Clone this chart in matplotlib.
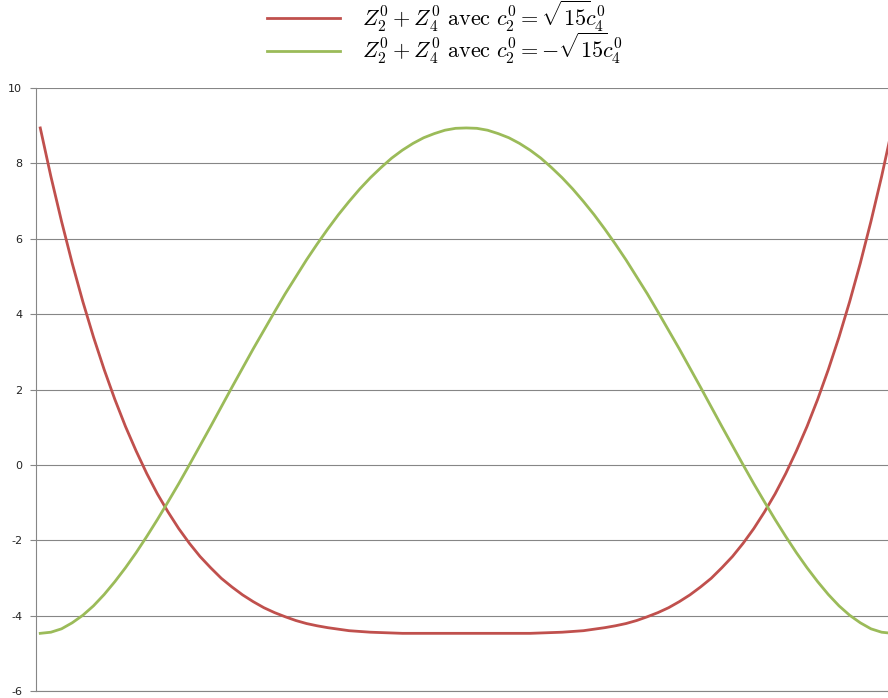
import matplotlib
matplotlib.use("Agg")
import matplotlib.pyplot as plt
import numpy as np

# abscisse (rayon normalise, de -1 a 1) et valeurs
r = np.linspace(-1, 1, 81)

rouge = [8.94, 7.65, 6.46, 5.35, 4.33, 3.39, 2.53, 1.74, 1.02, 0.37,
         -0.23, -0.77, -1.25, -1.69, -2.08, -2.43, -2.73, -3.01, -3.24, -3.45,
         -3.63, -3.79, -3.92, -4.03, -4.13, -4.21, -4.27, -4.32, -4.36, -4.40,
         -4.42, -4.44, -4.45, -4.46, -4.47, -4.47, -4.47, -4.47, -4.47, -4.47,
         -4.47,
         -4.47, -4.47, -4.47, -4.47, -4.47, -4.47, -4.46, -4.45, -4.44, -4.42,
         -4.40, -4.36, -4.32, -4.27, -4.21, -4.13, -4.03, -3.92, -3.79, -3.63,
         -3.45, -3.24, -3.01, -2.73, -2.43, -2.08, -1.69, -1.25, -0.77, -0.23,
         0.37, 1.02, 1.74, 2.53, 3.39, 4.33, 5.35, 6.46, 7.65, 8.94]

vert = [-4.47, -4.44, -4.35, -4.19, -3.99, -3.74, -3.44, -3.10, -2.73, -2.33,
        -1.90, -1.45, -0.98, -0.50, 0.00, 0.51, 1.02, 1.54, 2.06, 2.57,
        3.08, 3.57, 4.06, 4.54, 4.99, 5.44, 5.86, 6.26, 6.64, 6.99,
        7.32, 7.62, 7.89, 8.14, 8.35, 8.53, 8.68, 8.79, 8.88, 8.93,
        8.94,
        8.93, 8.88, 8.79, 8.68, 8.53, 8.35, 8.14, 7.89, 7.62, 7.32,
        6.99, 6.64, 6.26, 5.86, 5.44, 4.99, 4.54, 4.06, 3.57, 3.08,
        2.57, 2.06, 1.54, 1.02, 0.51, 0.00, -0.50, -0.98, -1.45, -1.90,
        -2.33, -2.73, -3.10, -3.44, -3.74, -3.99, -4.19, -4.35, -4.44, -4.47]

y_ticks = [-6, -4, -2, 0, 2, 4, 6, 8, 10]

plt.rcParams['mathtext.fontset'] = 'cm'

fig = plt.figure(figsize=(8.88, 6.98), dpi=100)
ax = fig.add_axes([36 / 888, 1 - 691 / 698, 860.5 / 888, 603 / 698])

l1, = ax.plot(r, rouge, color='#C0504D', linewidth=2.0)
l2, = ax.plot(r, vert, color='#9BBB59', linewidth=2.0)

ax.set_xlim(-1.01, 1.01)
ax.set_ylim(-6, 10)
ax.set_yticks(y_ticks)
ax.set_yticklabels([str(v) for v in y_ticks])
ax.set_xticks([])
ax.tick_params(axis='y', length=4, width=0.8, color='#868686', labelsize=8,
               labelcolor='#222222', pad=6)

ax.grid(True, axis='y', color='#868686', linewidth=0.8)
ax.set_axisbelow(True)
for s in ['top', 'right']:
    ax.spines[s].set_visible(False)
for s in ['left', 'bottom']:
    ax.spines[s].set_color('#868686')
    ax.spines[s].set_linewidth(0.8)

fig.legend([l1, l2],
           [r'$Z_2^0 + Z_4^0\ \mathrm{avec}\ c_2^0 = \sqrt{15}\!c_4^0$',
            r'$Z_2^0 + Z_4^0\ \mathrm{avec}\ c_2^0 = -\sqrt{15}\!c_4^0$'],
           loc='upper left', bbox_to_anchor=(249 / 888, 1.027), frameon=False,
           fontsize=16, handlelength=3.3, handletextpad=1.0, labelspacing=-0.12,
           borderpad=0.3)

fig.savefig('out.png', dpi=100)
